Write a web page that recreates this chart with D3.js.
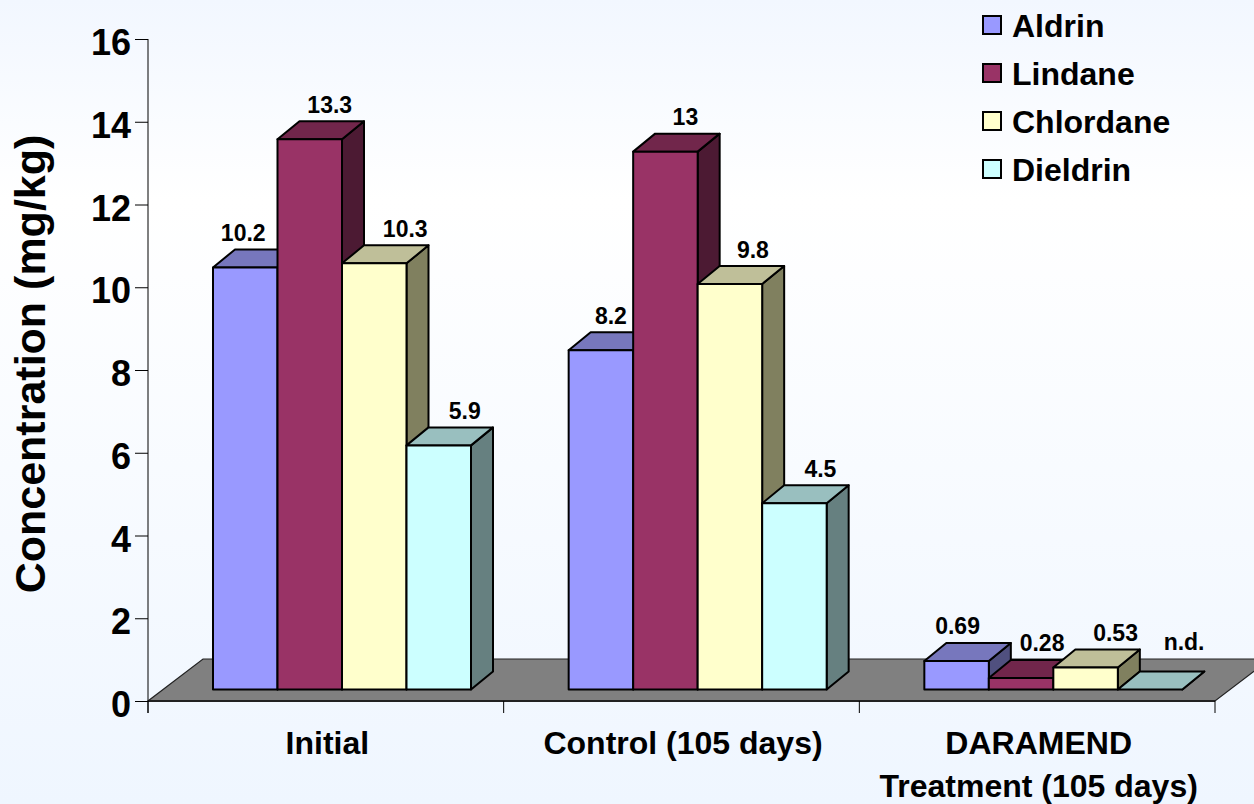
<!DOCTYPE html>
<html>
<head>
<meta charset="utf-8">
<script src="https://d3js.org/d3.v7.min.js"></script>
<style>
  html, body { margin: 0; padding: 0; overflow: hidden; }
  text { font-family: "Liberation Sans", Arial, sans-serif; font-weight: bold; fill: #000; }
</style>
</head>
<body>
<div id="chart"></div>
<script>
const categories = ["Initial", "Control (105 days)", "DARAMEND|Treatment (105 days)"];
const seriesNames = ["Aldrin", "Lindane", "Chlordane", "Dieldrin"];
const aldrin = [10.2, 8.2, 0.69];
const lindane = [13.3, 13, 0.28];
const chlordane = [10.3, 9.8, 0.53];
const dieldrin = [5.9, 4.5, 0];
const valueLabels = [
  ["10.2", "8.2", "0.69"],
  ["13.3", "13", "0.28"],
  ["10.3", "9.8", "0.53"],
  ["5.9", "4.5", "n.d."]
];
const yTicks = [0, 2, 4, 6, 8, 10, 12, 14, 16];
const frontColors = ["#9999ff", "#993366", "#ffffcc", "#ccffff"];
const topColors = ["#7777bd", "#71264b", "#bfbf99", "#99bfbf"];
const sideColors = ["#50507f", "#4c1a33", "#80805f", "#668080"];
// how far each value label sits right of its bar's front centre
const labelShift = [
  [-2, 10, 1],
  [20, 20, 21],
  [31, 23, 30],
  [26, 26, 34]
];

const width = 1254;
const height = 804;
const seriesValues = [aldrin, lindane, chlordane, dieldrin];

const svg = d3.select("#chart")
  .append("svg")
  .attr("width", width)
  .attr("height", height)
  .style("display", "block");

const grad = svg.append("defs").append("linearGradient")
  .attr("id", "bg")
  .attr("x1", 0).attr("y1", 0).attr("x2", 0).attr("y2", 1);
grad.append("stop").attr("offset", "0%").attr("stop-color", "#f2f7ff");
grad.append("stop").attr("offset", "25%").attr("stop-color", "#ffffff");
grad.append("stop").attr("offset", "100%").attr("stop-color", "#eff6ff");

svg.append("rect").attr("width", width).attr("height", height).attr("fill", "url(#bg)");

const y = d3.scaleLinear().domain([0, 16]).range([701, 39]);
const x0 = d3.scaleBand().domain(categories).range([148, 1215]);
const x1 = d3.scaleBand().domain(seriesNames).range([65, 323]);

// floor
const floorDx = 55, floorDy = 42;
svg.append("path")
  .attr("d", `M${x0.range()[0]},${y(0)}L${x0.range()[1]},${y(0)}L${x0.range()[1] + floorDx},${y(0) - floorDy}L${x0.range()[0] + floorDx},${y(0) - floorDy}Z`)
  .attr("fill", "#808080")
  .attr("stroke", "#222")
  .attr("stroke-width", 1.2);
svg.append("line")
  .attr("x1", x0.range()[0]).attr("x2", x0.range()[1])
  .attr("y1", y(0)).attr("y2", y(0))
  .attr("stroke", "#222").attr("stroke-width", 2);

// axes
const yAxis = svg.append("g")
  .attr("transform", "translate(148,0)")
  .call(d3.axisLeft(y).tickValues(yTicks).tickSize(13).tickPadding(4));
yAxis.selectAll("text").style("font-size", "36px").attr("y", 3).attr("dy", "0.35em");
yAxis.select(".domain").attr("d", `M0,${y(16)}V${y(0) + 12}`).attr("stroke", "#000");
yAxis.selectAll("line").attr("stroke", "#000");

const xTicks = [148, ...categories.map(c => x0(c) + x0.bandwidth())];
svg.selectAll(".xtick")
  .data(xTicks)
  .enter()
  .append("line")
  .attr("class", "xtick")
  .attr("x1", d => d).attr("x2", d => d)
  .attr("y1", y(0)).attr("y2", y(0) + 12)
  .attr("stroke", "#000");

// bars, left to right so each one covers the side of the last
const baseY = 689.5, depthX = 22, depthY = 18, barH = v => y(0) - y(v);
const bars = [];
categories.forEach((c, ci) => {
  seriesNames.forEach((s, si) => {
    bars.push({ c, s, si, ci, v: seriesValues[si][ci], label: valueLabels[si][ci] });
  });
});

const g = svg.selectAll(".bar")
  .data(bars)
  .enter()
  .append("g")
  .attr("class", "bar")
  .attr("stroke", "#000")
  .attr("stroke-width", 2)
  .attr("stroke-linejoin", "round");

const barLeft = d => x0(d.c) + x1(d.s);
const barRight = d => barLeft(d) + x1.bandwidth();
const barTop = d => baseY - barH(d.v);

g.append("path")
  .attr("d", d => `M${barRight(d)},${baseY}L${barRight(d) + depthX},${baseY - depthY}L${barRight(d) + depthX},${barTop(d) - depthY}L${barRight(d)},${barTop(d)}Z`)
  .attr("fill", d => sideColors[d.si]);
g.append("path")
  .attr("d", d => `M${barLeft(d)},${barTop(d)}L${barLeft(d) + depthX},${barTop(d) - depthY}L${barRight(d) + depthX},${barTop(d) - depthY}L${barRight(d)},${barTop(d)}Z`)
  .attr("fill", d => topColors[d.si]);
g.append("rect")
  .attr("x", barLeft)
  .attr("y", barTop)
  .attr("width", x1.bandwidth())
  .attr("height", d => barH(d.v))
  .attr("fill", d => frontColors[d.si]);

// value labels go on top of every bar
svg.selectAll(".val")
  .data(bars)
  .enter()
  .append("text")
  .attr("class", "val")
  .attr("x", d => barLeft(d) + x1.bandwidth() / 2 + labelShift[d.si][d.ci])
  .attr("y", d => barTop(d) - depthY - (d.label === "n.d." ? 22 : 8.5))
  .attr("text-anchor", "middle")
  .style("font-size", "23px")
  .text(d => d.label);

// category labels
const catText = svg.selectAll(".cat")
  .data(categories)
  .enter()
  .append("text")
  .attr("class", "cat")
  .attr("text-anchor", "middle")
  .style("font-size", "32px")
  .attr("transform", d => `translate(${x0(d) + x0.bandwidth() / 2 + 1.5},754)`);
catText.selectAll("tspan")
  .data(d => d.split("|"))
  .enter()
  .append("tspan")
  .attr("x", 0)
  .attr("y", (d, i) => i * 43)
  .text(d => d);

// y title
svg.append("text")
  .attr("transform", "translate(45,364) rotate(-90)")
  .attr("text-anchor", "middle")
  .style("font-size", "43px")
  .text("Concentration (mg/kg)");

// legend
const legend = svg.selectAll(".legend")
  .data(seriesNames)
  .enter()
  .append("g")
  .attr("class", "legend")
  .attr("transform", (d, i) => `translate(983,${16 + i * 48})`);
legend.append("rect")
  .attr("width", 18).attr("height", 18)
  .attr("fill", (d, i) => frontColors[i])
  .attr("stroke", "#000").attr("stroke-width", 2);
legend.append("text")
  .attr("x", 29).attr("y", 21)
  .style("font-size", "32px")
  .text(d => d);
</script>
</body>
</html>
